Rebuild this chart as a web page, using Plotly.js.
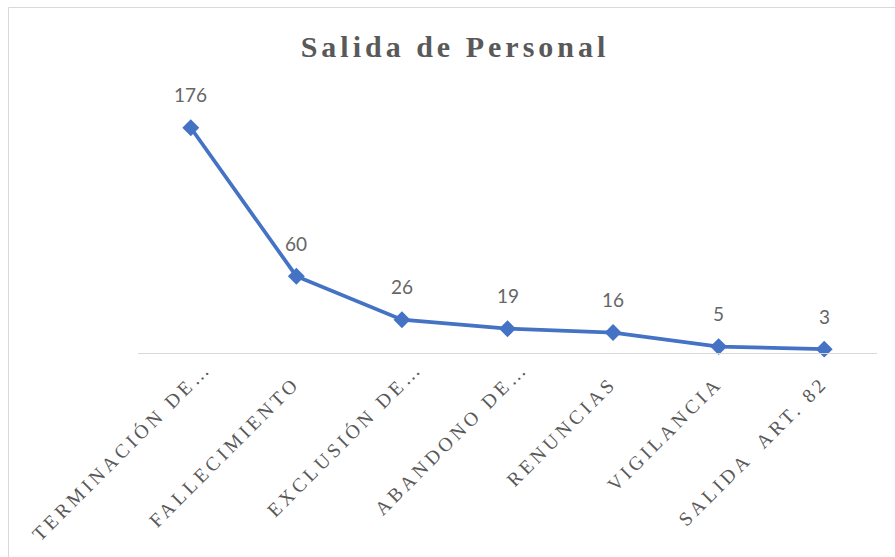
<!DOCTYPE html>
<html>
<head>
<meta charset="utf-8">
<script src="https://cdn.plot.ly/plotly-3.0.1.min.js"></script>
<style>
  body { margin: 0; padding: 0; background: #fff; }
  #chart { width: 895px; height: 557px; }
  .xtick text, .x2tick text { letter-spacing: 3.8px; }
  .gtitle { letter-spacing: 4px; }
</style>
</head>
<body>
<div id="chart"></div>
<script>
const categories = ["TERMINACIÓN DE…", "FALLECIMIENTO", "EXCLUSIÓN DE…", "ABANDONO DE…", "RENUNCIAS", "VIGILANCIA", "SALIDA  ART. 82"];
const values = [176, 60, 26, 19, 16, 5, 3];
const valueLabels = ["176", "60", "26", "19", "16", "5", "3"];
// labels shown truncated in the original sit a little higher on the diagonal
const truncatedLabels = ["TERMINACIÓN DE…", "EXCLUSIÓN DE…", "ABANDONO DE…"];
const fullLabels = ["FALLECIMIENTO", "RENUNCIAS", "VIGILANCIA", "SALIDA  ART. 82"];

const W = 895, H = 557;
const L = 138, R = 18, T = 97, B = 204;
const pw = W - L - R, ph = H - T - B;
const px = v => (v - L) / pw;
const py = v => (H - B - v) / ph;

const trace = {
  type: 'scatter',
  mode: 'lines+markers',
  x: categories,
  y: values,
  line: { color: '#4472C4', width: 3.75 },
  marker: { symbol: 'diamond', size: 13, color: '#4472C4' },
  hoverinfo: 'skip',
  cliponaxis: false
};
const ghost = {
  type: 'scatter', mode: 'lines', x: categories, y: values,
  xaxis: 'x2', yaxis: 'y', line: { width: 0, color: 'rgba(0,0,0,0)' },
  hoverinfo: 'skip', showlegend: false
};

const annotations = categories.map((c, i) => ({
  x: c, y: values[i], xref: 'x', yref: 'y',
  text: valueLabels[i], showarrow: false, yshift: 33,
  font: { family: 'Lato, "Liberation Sans", sans-serif', size: 19, color: '#666666' }
}));

const tickFont = { family: '"Liberation Serif", "Times New Roman", serif', size: 19.5, color: '#595959' };
const baseX = {
  type: 'category',
  categoryorder: 'array', categoryarray: categories,
  range: [-0.5, categories.length - 0.5],
  showgrid: false, zeroline: false,
  ticks: '',
  tickangle: -45,
  tickfont: tickFont,
  tickmode: 'array',
  automargin: false,
  fixedrange: true
};

const layout = {
  width: W, height: H,
  margin: { l: L, r: R, t: T, b: B },
  paper_bgcolor: '#ffffff',
  plot_bgcolor: '#ffffff',
  showlegend: false,
  title: {
    text: '<b>Salida de Personal</b>',
    font: { family: '"Liberation Serif", "Times New Roman", serif', size: 30, color: '#595959' },
    xref: 'container', yref: 'container',
    x: 455 / W, xanchor: 'center',
    y: 1 - 46 / H, yanchor: 'middle'
  },
  xaxis: Object.assign({}, baseX, {
    showline: true, linecolor: '#d9d9d9', linewidth: 1,
    tickvals: fullLabels, ticktext: fullLabels,
    ticklabelstandoff: 10, ticklabelshift: -2
  }),
  xaxis2: Object.assign({}, baseX, {
    overlaying: 'x', side: 'bottom', anchor: 'y',
    showline: false,
    tickvals: truncatedLabels, ticktext: truncatedLabels,
    ticklabelstandoff: -1, ticklabelshift: 15
  }),
  yaxis: {
    range: [0, 200],
    visible: false,
    showgrid: false, zeroline: false,
    fixedrange: true
  },
  annotations: annotations,
  shapes: [
    { type: 'line', xref: 'paper', yref: 'paper', x0: px(8.5), x1: px(900), y0: py(7.5), y1: py(7.5), line: { color: '#d9d9d9', width: 1 } },
    { type: 'line', xref: 'paper', yref: 'paper', x0: px(8.5), x1: px(8.5), y0: py(7.5), y1: py(600), line: { color: '#d9d9d9', width: 1 } }
  ]
};

Plotly.newPlot('chart', [ghost, trace], layout, { displayModeBar: false, staticPlot: true });
</script>
</body>
</html>
